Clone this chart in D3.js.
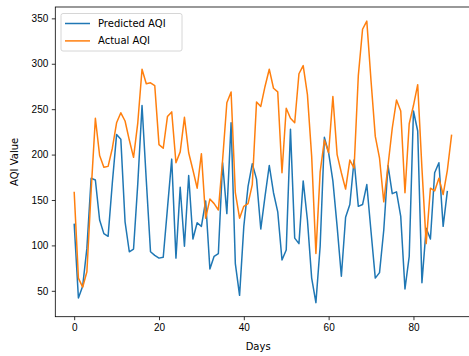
<!DOCTYPE html>
<html>
<head>
<meta charset="utf-8">
<script src="https://cdn.jsdelivr.net/npm/d3@7"></script>
<style>
  body { margin: 0; background: #fff; }
  svg { display: block; font-family: "DejaVu Sans", sans-serif; }
</style>
</head>
<body>
<div id="chart"></div>
<script>
// values
const predicted = [124, 42, 55, 97, 174, 172, 128, 113, 110, 169, 222, 217, 126, 93, 96, 168,
  254, 172, 93, 89, 86, 87, 141, 195, 86, 164, 99, 177, 107, 125, 121, 149, 74, 88, 91, 191,
  135, 235, 80, 45, 121, 165, 190, 173, 118, 154, 188, 158, 137, 84, 95, 228, 108, 102, 171,
  128, 64, 37, 99, 219, 202, 171, 121, 66, 131, 145, 194, 143, 145, 167, 115, 64, 70, 117,
  188, 157, 159, 132, 52, 88, 248, 226, 59, 119, 107, 180, 191, 121, 160]
const actual = [159, 64, 54, 71, 160, 240, 199, 186, 187, 207, 235, 246, 237, 216, 197, 235,
  294, 278, 279, 276, 211, 207, 242, 247, 191, 203, 241, 202, 183, 163, 201, 130, 151, 146,
  139, 194, 257, 269, 158, 130, 143, 146, 167, 258, 253, 275, 294, 273, 269, 180, 251, 240,
  235, 289, 298, 266, 198, 91, 181, 216, 202, 264, 200, 180, 162, 194, 185, 287, 338, 347,
  281, 220, 196, 148, 188, 229, 260, 248, 158, 234, 254, 277, 185, 102, 163, 160, 174, 156,
  183, 222]
const xTicks = [0, 20, 40, 60, 80]
const yTicks = [50, 100, 150, 200, 250, 300, 350]
const seriesNames = ['Predicted AQI', 'Actual AQI']
const seriesColors = ['#1f77b4', '#ff7f0e']

const fullWidth = 469
const fullHeight = 356
const plot = {left: 55.3, top: 7, right: 470.5, bottom: 316.7}

const svg = d3.select('#chart').append('svg')
  .attr('width', fullWidth)
  .attr('height', fullHeight)

// matplotlib style 5% margins on the data limits
const maxDay = Math.max(predicted.length, actual.length) - 1
const xPad = maxDay * 0.05
const xScale = d3.scaleLinear()
  .domain([-xPad, maxDay + xPad])
  .range([plot.left, plot.right])

const allVals = predicted.concat(actual)
const yMin = d3.min(allVals)
const yMax = d3.max(allVals)
const yPad = (yMax - yMin) * 0.05
const yScale = d3.scaleLinear()
  .domain([yMin - yPad, yMax + yPad])
  .range([plot.bottom, plot.top])

// axes
const xAxis = d3.axisBottom(xScale).tickValues(xTicks).tickSize(3.5).tickPadding(3.5)
const yAxis = d3.axisLeft(yScale).tickValues(yTicks).tickSize(3.5).tickPadding(3.5)

const xAxisEle = svg.append('g')
  .attr('transform', 'translate(0,' + plot.bottom + ')')
  .call(xAxis)
const yAxisEle = svg.append('g')
  .attr('transform', 'translate(' + plot.left + ',0)')
  .call(yAxis)

for (const ax of [xAxisEle, yAxisEle]) {
  ax.select('.domain').remove()
  ax.selectAll('.tick line').attr('stroke', '#000').attr('stroke-width', 0.8)
  ax.selectAll('.tick text').attr('fill', '#000').style('font-size', '10px')
}

// lines
const line = d3.line()
  .x((d, i) => xScale(i))
  .y(d => yScale(d))

const series = [predicted, actual]
series.forEach((vals, k) => {
  svg.append('path')
    .datum(vals)
    .attr('fill', 'none')
    .attr('stroke', seriesColors[k])
    .attr('stroke-width', 1.5)
    .attr('stroke-linejoin', 'round')
    .attr('d', line)
})

// frame
svg.append('rect')
  .attr('x', plot.left)
  .attr('y', plot.top)
  .attr('width', plot.right - plot.left)
  .attr('height', plot.bottom - plot.top)
  .attr('fill', 'none')
  .attr('stroke', '#000')
  .attr('stroke-width', 0.8)

// axis labels
svg.append('text')
  .attr('x', (plot.left + 461) / 2)
  .attr('y', 350)
  .attr('text-anchor', 'middle')
  .style('font-size', '10px')
  .text('Days')

svg.append('text')
  .attr('transform', 'translate(18,' + (plot.top + plot.bottom) / 2 + ')rotate(-90)')
  .attr('text-anchor', 'middle')
  .style('font-size', '10px')
  .text('AQI Value')

// legend
const legend = svg.append('g').attr('transform', 'translate(61,13.5)')
legend.append('rect')
  .attr('width', 121)
  .attr('height', 37.5)
  .attr('rx', 2)
  .attr('fill', '#fff')
  .attr('fill-opacity', 0.8)
  .attr('stroke', '#cccccc')
  .attr('stroke-width', 0.8)

seriesNames.forEach((name, k) => {
  const yy = 10 + k * 17.4
  legend.append('line')
    .attr('x1', 4).attr('x2', 29)
    .attr('y1', yy).attr('y2', yy)
    .attr('stroke', seriesColors[k])
    .attr('stroke-width', 1.5)
  legend.append('text')
    .attr('x', 37)
    .attr('y', yy)
    .attr('dy', '0.35em')
    .style('font-size', '10px')
    .text(name)
})
</script>
</body>
</html>
